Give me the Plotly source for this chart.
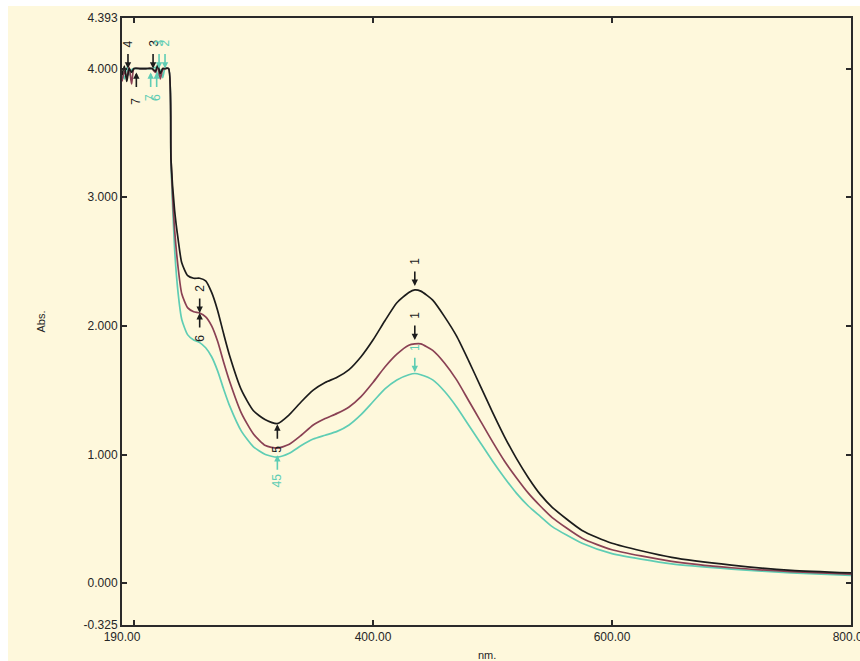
import plotly.graph_objects as go

# ---------------- data ----------------
wavelength = [190, 192, 194, 196, 198, 200, 205, 210, 215, 218, 220, 222, 224, 226, 229,
              231, 234, 237, 240, 245, 250, 255, 260, 265, 270, 275, 280, 290, 300, 310,
              320, 330, 340, 350, 360, 370, 380, 390, 400, 410, 420, 430, 435, 440, 450,
              460, 470, 480, 490, 500, 510, 520, 530, 540, 550, 575, 600, 650, 700, 750, 800]

abs_black = [3.95, 4.02, 3.90, 4.00, 3.97, 4.00, 4.00, 4.00, 4.00, 3.98, 4.03, 3.96, 4.00, 4.00, 4.00,
             3.29, 2.90, 2.67, 2.49, 2.39, 2.37, 2.37, 2.35, 2.26, 2.12, 1.94, 1.77, 1.50, 1.34, 1.27,
             1.24, 1.31, 1.41, 1.50, 1.56, 1.60, 1.66, 1.76, 1.89, 2.04, 2.18, 2.26, 2.28, 2.27, 2.20,
             2.07, 1.92, 1.73, 1.53, 1.33, 1.14, 0.97, 0.82, 0.69, 0.59, 0.41, 0.31, 0.20, 0.14, 0.10, 0.08]

abs_red = [3.90, 3.98, 3.93, 4.01, 3.88, 4.00, 4.00, 4.00, 4.00, 3.97, 4.02, 3.92, 3.99, 4.00, 4.00,
           3.30, 2.75, 2.45, 2.25, 2.14, 2.11, 2.10, 2.07, 2.00, 1.88, 1.72, 1.57, 1.32, 1.16, 1.07,
           1.05, 1.08, 1.15, 1.23, 1.28, 1.32, 1.37, 1.45, 1.56, 1.68, 1.78, 1.85, 1.86, 1.86, 1.81,
           1.71, 1.58, 1.42, 1.26, 1.10, 0.95, 0.82, 0.70, 0.60, 0.51, 0.35, 0.26, 0.17, 0.12, 0.09, 0.07]

abs_teal = [3.97, 3.92, 4.01, 3.95, 3.99, 4.00, 4.00, 4.00, 4.00, 4.01, 3.94, 3.99, 3.93, 4.00, 4.00,
            3.25, 2.60, 2.25, 2.05, 1.93, 1.89, 1.87, 1.83, 1.76, 1.65, 1.51, 1.38, 1.18, 1.06, 1.00,
            0.98, 1.01, 1.07, 1.12, 1.15, 1.18, 1.23, 1.31, 1.41, 1.51, 1.58, 1.62, 1.63, 1.62, 1.58,
            1.49, 1.37, 1.23, 1.09, 0.95, 0.82, 0.70, 0.60, 0.52, 0.44, 0.31, 0.23, 0.15, 0.11, 0.08, 0.06]

x_tickvals = [190, 200, 400, 600, 800]
x_ticktext = ["190.00", "", "400.00", "600.00", "800.00"]
y_tickvals = [-0.325, 0, 1, 2, 3, 4, 4.393]
y_ticktext = ["-0.325", "0.000", "1.000", "2.000", "3.000", "4.000", "4.393"]

# peak-pick markers: wavelength, absorbance at arrow head, label, colour key, side (+1 above, -1 below)
mark_wl = [435, 435, 435, 255, 255, 320, 320, 195, 216, 221, 226, 202, 214, 219]
mark_abs = [2.31, 1.89, 1.64, 2.10, 2.10, 1.235, 0.995, 4.0, 4.0, 4.0, 4.0, 3.97, 3.97, 3.97]
mark_text = ["1", "1", "1", "2", "6", "5", "45", "4", "3", "3", "2", "7", "7", "6"]
mark_col = ["k", "k", "t", "k", "k", "k", "t", "k", "k", "t", "t", "k", "t", "t"]
mark_side = [1, 1, 1, 1, -1, -1, -1, 1, 1, 1, 1, -1, -1, -1]

COL = {"k": "#1c1c1c", "r": "#8a4154", "t": "#5fcdb4"}
BG = "#fef8dc"
FONT = "Liberation Sans, Arial, sans-serif"
TXT = "#262626"

L, R, T, B = 122, 9, 18, 36
PW, PH = 860 - L - R, 661 - T - B

fig = go.Figure()
for ys, c in [(abs_teal, COL["t"]), (abs_red, COL["r"]), (abs_black, COL["k"])]:
    fig.add_trace(go.Scatter(x=wavelength, y=ys, mode="lines",
                             line=dict(color=c, width=1.7, shape="spline", smoothing=0.6),
                             showlegend=False, hoverinfo="skip"))

annotations = []
for wl, ab, txt, ck, side in zip(mark_wl, mark_abs, mark_text, mark_col, mark_side):
    c = COL[ck]
    annotations.append(dict(x=wl, y=ab, xref="x", yref="y", text="", showarrow=True,
                            ax=0, ay=-16 * side, arrowhead=2, arrowsize=0.8, arrowwidth=1.6,
                            arrowcolor=c))
    annotations.append(dict(x=wl, y=ab, xref="x", yref="y", text=txt, showarrow=False,
                            textangle=-90, yshift=(25 + 4 * (txt == "7" and ck == "k")) * side,
                            font=dict(family=FONT, size=12, color=c)))

annotations.append(dict(x=0.5, y=-30 / PH, xref="paper", yref="paper", text="nm.",
                        showarrow=False, xanchor="center", yanchor="middle",
                        font=dict(family=FONT, size=11, color=TXT)))
annotations.append(dict(x=-82 / PW, y=0.5, xref="paper", yref="paper", text="Abs.",
                        showarrow=False, textangle=-90, xanchor="center", yanchor="middle",
                        font=dict(family=FONT, size=11, color=TXT)))

# thin white page border at the top and left of the screenshot
shapes = [
    dict(type="rect", xref="paper", yref="paper", x0=-L / PW - 0.01, x1=1 + R / PW + 0.01,
         y0=1 + (T - 6) / PH, y1=1 + T / PH + 0.01, fillcolor="white", line=dict(width=0),
         layer="below"),
    dict(type="rect", xref="paper", yref="paper", x0=-L / PW - 0.01, x1=-(L - 8) / PW,
         y0=-B / PH - 0.01, y1=1 + T / PH + 0.01, fillcolor="white", line=dict(width=0),
         layer="below"),
]

axis_common = dict(showgrid=False, zeroline=False, showline=True, linecolor="#2a2a2a",
                   linewidth=2, mirror="ticks", ticks="inside", ticklen=5, tickwidth=1.5,
                   tickcolor="#2a2a2a", ticklabeloverflow="allow", automargin=False,
                   tickfont=dict(family=FONT, size=12, color=TXT))

fig.update_layout(
    width=860, height=661,
    margin=dict(l=L, r=R, t=T, b=B),
    paper_bgcolor=BG, plot_bgcolor=BG,
    xaxis=dict(range=[190, 800], tickvals=x_tickvals, ticktext=x_ticktext, **axis_common),
    yaxis=dict(range=[-0.325, 4.393], tickvals=y_tickvals, ticktext=y_ticktext, **axis_common),
    annotations=annotations,
    shapes=shapes,
    showlegend=False,
)

fig.write_html(
    "out.html",
    config={"displayModeBar": False},
    post_script="document.body.style.margin='0px';document.documentElement.style.overflow='hidden';",
)
